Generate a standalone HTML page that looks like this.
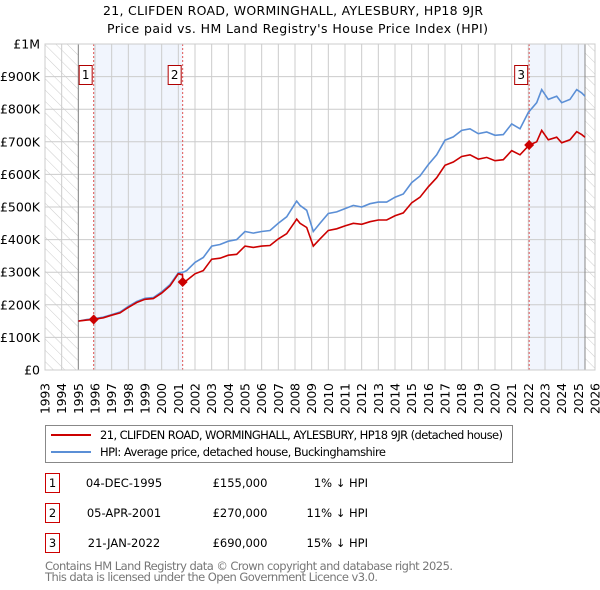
<!DOCTYPE html>
<html><head><meta charset="utf-8"><style>
body{margin:0;background:#fff;font-family:"DejaVu Sans","Liberation Sans",sans-serif;}
#wrap{position:relative;width:600px;height:590px;overflow:hidden;}
svg text{font-family:"DejaVu Sans","Liberation Sans",sans-serif;}
</style></head><body><div id="wrap">
<svg id="svg" width="600" height="590">
<defs><pattern id="hatch" width="8" height="8" patternUnits="userSpaceOnUse" patternTransform="rotate(-45)"><line x1="0" y1="0" x2="0" y2="8" stroke="#ccc" stroke-width="1"/></pattern></defs>
<text x="103" y="15" font-size="12.5" textLength="380" lengthAdjust="spacing">21, CLIFDEN ROAD, WORMINGHALL, AYLESBURY, HP18 9JR</text>
<text x="107" y="33" font-size="12.5" textLength="381" lengthAdjust="spacing">Price paid vs. HM Land Registry's House Price Index (HPI)</text>
<g id="plot"></g>
<g>
<rect x="45.5" y="425.5" width="467" height="37" fill="#fff" stroke="#888"/>
<line x1="51" y1="435" x2="91" y2="435" stroke="#cc0000" stroke-width="2"/>
<text x="100" y="439" font-size="11.5" textLength="403" lengthAdjust="spacing">21, CLIFDEN ROAD, WORMINGHALL, AYLESBURY, HP18 9JR (detached house)</text>
<line x1="51" y1="452" x2="91" y2="452" stroke="#5b8fd6" stroke-width="2"/>
<text x="100" y="456" font-size="11.5" textLength="286" lengthAdjust="spacing">HPI: Average price, detached house, Buckinghamshire</text>
</g>
<g id="table" font-size="11.5"></g>
<text x="45" y="570" font-size="11.5" fill="#777" textLength="408" lengthAdjust="spacing">Contains HM Land Registry data © Crown copyright and database right 2025.</text>
<text x="45" y="581" font-size="11.5" fill="#777" textLength="333" lengthAdjust="spacing">This data is licensed under the Open Government Licence v3.0.</text>
</svg></div>
<script>
const hpiYears=[1995,1995.5,1996,1996.5,1997,1997.5,1998,1998.5,1999,1999.5,2000,2000.5,2001,2001.3,2001.5,2002,2002.5,2003,2003.5,2004,2004.5,2005,2005.5,2006,2006.5,2007,2007.5,2008,2008.1,2008.3,2008.7,2009.1,2009.5,2010,2010.5,2011,2011.5,2012,2012.5,2013,2013.5,2014,2014.5,2015,2015.5,2016,2016.5,2017,2017.5,2018,2018.5,2019,2019.5,2020,2020.5,2021,2021.5,2022,2022.5,2022.8,2023.2,2023.7,2024,2024.5,2024.9,2025.2,2025.4];
const hpiValues=[150,155,158,162,170,178,195,210,220,222,240,262,298,300,305,330,345,380,385,395,400,425,420,425,428,450,470,510,518,505,490,425,450,480,485,495,505,500,510,515,515,530,540,575,595,630,660,705,715,735,740,725,730,720,722,755,740,790,820,860,830,840,820,830,860,850,840];
const redYears=[1995,1995.5,1995.92,1996,1996.5,1997,1997.5,1998,1998.5,1999,1999.5,2000,2000.5,2001,2001.25,2001.27,2001.5,2002,2002.5,2003,2003.5,2004,2004.5,2005,2005.5,2006,2006.5,2007,2007.5,2008,2008.1,2008.3,2008.7,2009.1,2009.5,2010,2010.5,2011,2011.5,2012,2012.5,2013,2013.5,2014,2014.5,2015,2015.5,2016,2016.5,2017,2017.5,2018,2018.5,2019,2019.5,2020,2020.5,2021,2021.5,2022.05,2022.5,2022.8,2023.2,2023.7,2024,2024.5,2024.9,2025.2,2025.4];
const redValues=[150,153,155,156,160,168,175,192,207,217,219,236,258,295,292,270,275,295,305,340,343,352,355,380,376,380,382,402,418,455,463,450,437,380,402,428,433,442,450,447,455,460,460,473,482,513,530,562,590,628,638,655,660,647,652,642,645,673,660,690,700,735,706,714,697,706,731,722,714];
const saleYears=[1995.92,2001.26,2022.05];
const saleValues=[155,270,690];
const saleLabels=["1","2","3"];
const saleDates=["04-DEC-1995","05-APR-2001","21-JAN-2022"];
const salePrices=["£155,000","£270,000","£690,000"];
const saleDiffs=["1% ↓ HPI","11% ↓ HPI","15% ↓ HPI"];
const yTicks=[0,100,200,300,400,500,600,700,800,900,1000];
const yTickLabels=["£0","£100K","£200K","£300K","£400K","£500K","£600K","£700K","£800K","£900K","£1M"];
const xMin=1993,xMax=2026,dataStart=1995,dataEnd=2025.4;
const L=45,R=595,T=44,B=370;
const X=y=>L+(y-xMin)/(xMax-xMin)*(R-L);
const Y=v=>B-v/1000*(B-T);
const NS="http://www.w3.org/2000/svg";
const plot=document.getElementById('plot');
function mk(tag,attrs,parent){const e=document.createElementNS(NS,tag);for(const k in attrs)e.setAttribute(k,attrs[k]);(parent||plot).appendChild(e);return e;}
let r;
r=mk('rect',{x:X(saleYears[0]),y:T,width:X(saleYears[1])-X(saleYears[0]),height:B-T,fill:'#eef3fc',opacity:0.8});


r=mk('rect',{x:X(saleYears[2]),y:T,width:X(dataEnd)-X(saleYears[2]),height:B-T,fill:'#eef3fc',opacity:0.8});


r=mk('rect',{x:L,y:T,width:X(dataStart)-L,height:B-T,fill:'url(#hatch)'});


r=mk('rect',{x:X(dataEnd),y:T,width:R-X(dataEnd),height:B-T,fill:'url(#hatch)'});


for(let yr=xMin;yr<=xMax;yr++){
 const g=mk('line',{x1:X(yr),x2:X(yr),y1:T,y2:B,stroke:'#ccc','stroke-width':1});
 
 
 const t=mk('text',{x:0,y:0,'font-size':12.5,textLength:31,lengthAdjust:'spacing',transform:`translate(${X(yr)+4.5},${414}) rotate(-90)`});
 t.textContent=yr;
 
 
}
yTicks.forEach((v,i)=>{
 const g=mk('line',{x1:L,x2:R,y1:Y(v),y2:Y(v),stroke:'#ccc','stroke-width':1});
 
 
 const t=mk('text',{x:L-5,y:Y(v)+4.5,'font-size':12.5,'text-anchor':'end'});
 t.textContent=yTickLabels[i];
 
 
});
[dataStart,dataEnd].forEach(yr=>{
 const g=mk('line',{x1:X(yr),x2:X(yr),y1:T,y2:B,stroke:'#888','stroke-width':1});
 
 
});
saleYears.forEach((yr,i)=>{
 const l=mk('line',{x1:X(yr),x2:X(yr),y1:T,y2:B,stroke:'#e05555','stroke-width':1,'stroke-dasharray':'2,2'});
 
 
});
const path=(xs,vs)=>xs.map((x,i)=>(i?'L':'M')+X(x).toFixed(1)+','+Y(vs[i]).toFixed(1)).join('');
let p=mk('path',{d:path(hpiYears,hpiValues),fill:'none',stroke:'#5b8fd6','stroke-width':1.6});


p=mk('path',{d:path(redYears,redValues),fill:'none',stroke:'#cc0000','stroke-width':1.6});


saleYears.forEach((yr,i)=>{
 const cx=X(yr),cy=Y(saleValues[i]);
 const d=mk('path',{d:`M${cx},${cy-5}L${cx+5},${cy}L${cx},${cy+5}L${cx-5},${cy}Z`,fill:'#cc0000'});
 
 
 const b=mk('rect',{x:cx-14.5,y:65.5,width:13,height:19,fill:'#fff',stroke:'#b00000'});
 
 
 const t=mk('text',{x:cx-8,y:79,'font-size':12,'text-anchor':'middle'});
 t.textContent=saleLabels[i];
 
 
});
const fr=mk('rect',{x:L,y:T,width:R-L,height:B-T,fill:'none',stroke:'#ccc'});


const tb=document.getElementById('table');
saleLabels.forEach((lab,i)=>{
 const y=487+i*30;
 const b=mk('rect',{x:45.5,y:y-13.5,width:14,height:19,fill:'#fff',stroke:'#cc0000'},tb);
 
 
 const cells=[[52.5,lab,'middle'],[124,saleDates[i],'middle'],[240,salePrices[i],'middle'],[368,saleDiffs[i],'end']];
 cells.forEach(c=>{
  const t=mk('text',{x:c[0],y:y,'text-anchor':c[2]},tb);
  t.textContent=c[1];
  
  
 });
});
</script></body></html>
